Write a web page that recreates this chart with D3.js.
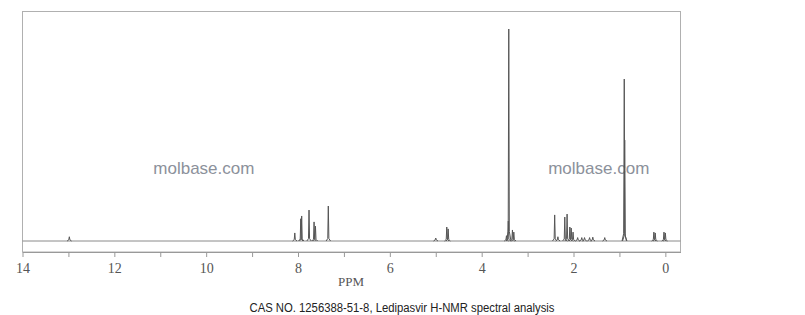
<!DOCTYPE html>
<html>
<head>
<meta charset="utf-8">
<script src="https://cdn.jsdelivr.net/npm/d3@7"></script>
<style>
  body { margin: 0; background: #fff; }
  svg { display: block; }
</style>
</head>
<body>
<script>
// peak positions (ppm) and relative intensities (tallest = 100)
const peakPpm = [12.98, 8.07, 7.94, 7.92, 7.76, 7.65, 7.62, 7.34, 5.00, 4.76, 4.73,
    3.46, 3.42, 3.41, 3.33, 3.30, 2.41, 2.34, 2.19, 2.14, 2.08, 2.05, 2.01,
    1.91, 1.82, 1.76, 1.65, 1.58, 1.32, 0.895, 0.885, 0.25, 0.22, 0.03, 0.00]
const peakHeight = [2, 3.8, 10.5, 11.8, 14.6, 9, 7, 16.5, 1.4, 6.6, 5.7,
    2.5, 9.4, 100, 5.2, 4.2, 12.3, 2, 11.3, 12.7, 6.6, 6.1, 4.2,
    1.6, 1.6, 1.6, 1.6, 1.8, 1.6, 76.4, 47.6, 4.2, 3.8, 4.2, 3.8]
const tickValues = d3.range(0, 15)
const tickLabels = tickValues.map(v => v % 2 === 0 ? String(v) : '')

const w = 805
const h = 315

const svg = d3.select('body').append('svg')
    .attr('width', w)
    .attr('height', h)

const x = d3.scaleLinear()
    .domain([14, -0.33])
    .range([22.5, 680.5])

const y = d3.scaleLinear()
    .domain([0, 100])
    .range([241, 29])

// watermarks
svg.selectAll('.wm')
    .data([x(10.05), x(1.45)])
    .enter()
    .append('text')
        .attr('x', d => d)
        .attr('y', 174)
        .attr('text-anchor', 'middle')
        .style('font-family', 'Liberation Sans, Arial, sans-serif')
        .style('font-size', '17px')
        .style('fill', '#8c919b')
        .text('molbase.com')

// frame
svg.append('rect')
    .attr('x', 22.5)
    .attr('y', 11.5)
    .attr('width', 658)
    .attr('height', 240.5)
    .attr('fill', 'none')
    .attr('stroke', '#b0b0b0')

// baseline
svg.append('line')
    .attr('x1', x(14))
    .attr('x2', x(-0.33))
    .attr('y1', y(0))
    .attr('y2', y(0))
    .attr('stroke', '#8a8a8a')

const line = d3.line()
    .x(d => x(d[0]))
    .y(d => y(d[1]))

const dw = 0.012
svg.selectAll('.peak')
    .data(peakPpm.map((p, i) => ({ p, v: peakHeight[i] })))
    .enter()
    .append('path')
        .attr('class', 'peak')
        .attr('d', d => line([
            [d.p + 4 * dw, 0],
            [d.p + dw, d.v * 0.04 + 0.5],
            [d.p, d.v],
            [d.p - dw, d.v * 0.04 + 0.5],
            [d.p - 4 * dw, 0]
        ]))
        .attr('fill', 'none')
        .attr('stroke', '#555')
        .attr('stroke-width', 1)

// axis
const axis = d3.axisBottom(x)
    .tickValues(tickValues)
    .tickFormat((d, i) => tickLabels[i])
    .tickSize(5)
    .tickSizeOuter(0)
    .tickPadding(6)

const gx = svg.append('g')
    .attr('transform', 'translate(0,252)')
    .call(axis)

gx.select('.domain').attr('stroke', '#999')
gx.selectAll('.tick line').attr('stroke', '#999')
gx.selectAll('.tick text')
    .style('font-family', 'Liberation Serif, DejaVu Serif, serif')
    .style('font-size', '14px')
    .style('fill', '#555')

svg.append('text')
    .attr('x', 351)
    .attr('y', 286)
    .attr('text-anchor', 'middle')
    .style('font-family', 'Liberation Serif, DejaVu Serif, serif')
    .style('font-size', '13px')
    .style('fill', '#555')
    .text('PPM')

svg.append('text')
    .attr('x', 402)
    .attr('y', 312)
    .attr('text-anchor', 'middle')
    .attr('textLength', 305)
    .attr('lengthAdjust', 'spacingAndGlyphs')
    .style('font-family', 'Liberation Sans, Arial, sans-serif')
    .style('font-size', '12px')
    .style('fill', '#222')
    .text('CAS NO. 1256388-51-8, Ledipasvir H-NMR spectral analysis')
</script>
</body>
</html>
